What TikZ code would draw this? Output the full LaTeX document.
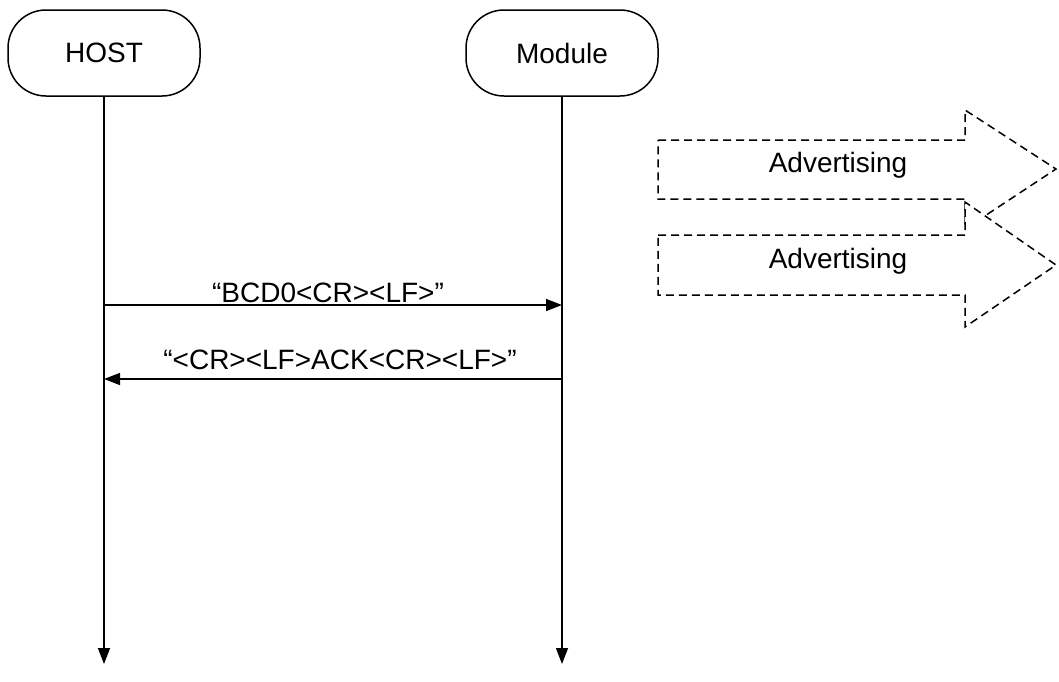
\documentclass[tikz,border=0pt]{standalone}
\usepackage{fontspec}
\setmainfont{Liberation Sans}
\usetikzlibrary{arrows.meta}

\begin{document}
\begin{tikzpicture}[x=1pt,y=-1pt,line width=1.5pt,
		font=\fontsize{28}{34}\selectfont,
		lane/.style={draw,rounded corners=38pt,minimum width=192pt,minimum height=86pt,inner sep=0pt},
		msg/.style={-{Triangle[length=16pt,width=12pt]}},
		adv/.style={draw,dash pattern=on 8pt off 5pt,fill=white,line width=1.5pt}]
		\useasboundingbox (0,0) rectangle (1059,681);
		\node[lane](host) at (104,53) {HOST};
		\node[lane](module) at (562,53) {Module};
		\coordinate(host-end) at (104,664);
		\coordinate(module-end) at (562,664);
		\draw[msg](host) -- (host-end);
		\draw[msg](module) -- (module-end);
		
		\coordinate(h1) at (104,305);
		\coordinate(m1) at (562,305);
		\draw[msg](h1) -- (m1);
		\node[anchor=base,inner sep=0pt](cmd) at (328,302) {“BCD0<CR><LF>”};
		\coordinate(h2) at (104,379);
		\coordinate(m2) at (562,379);
		\draw[msg](m2) -- (h2);
		\node[anchor=base,inner sep=0pt](ack) at (340,369) {“<CR><LF>ACK<CR><LF>”};
		
		\draw[adv](658,140) -- (965,140) -- (965,110) -- (1056,169) -- (965,229) -- (965,199) -- (658,199) -- cycle;
		\node[anchor=base,inner sep=0pt](adv1) at (838,172) {Advertising};
		\draw[adv](658,235) -- (965,235) -- (965,202) -- (1056,265) -- (965,327) -- (965,295) -- (658,295) -- cycle;
		\node[anchor=base,inner sep=0pt](adv2) at (838,268) {Advertising};
	\end{tikzpicture}
\end{document}
